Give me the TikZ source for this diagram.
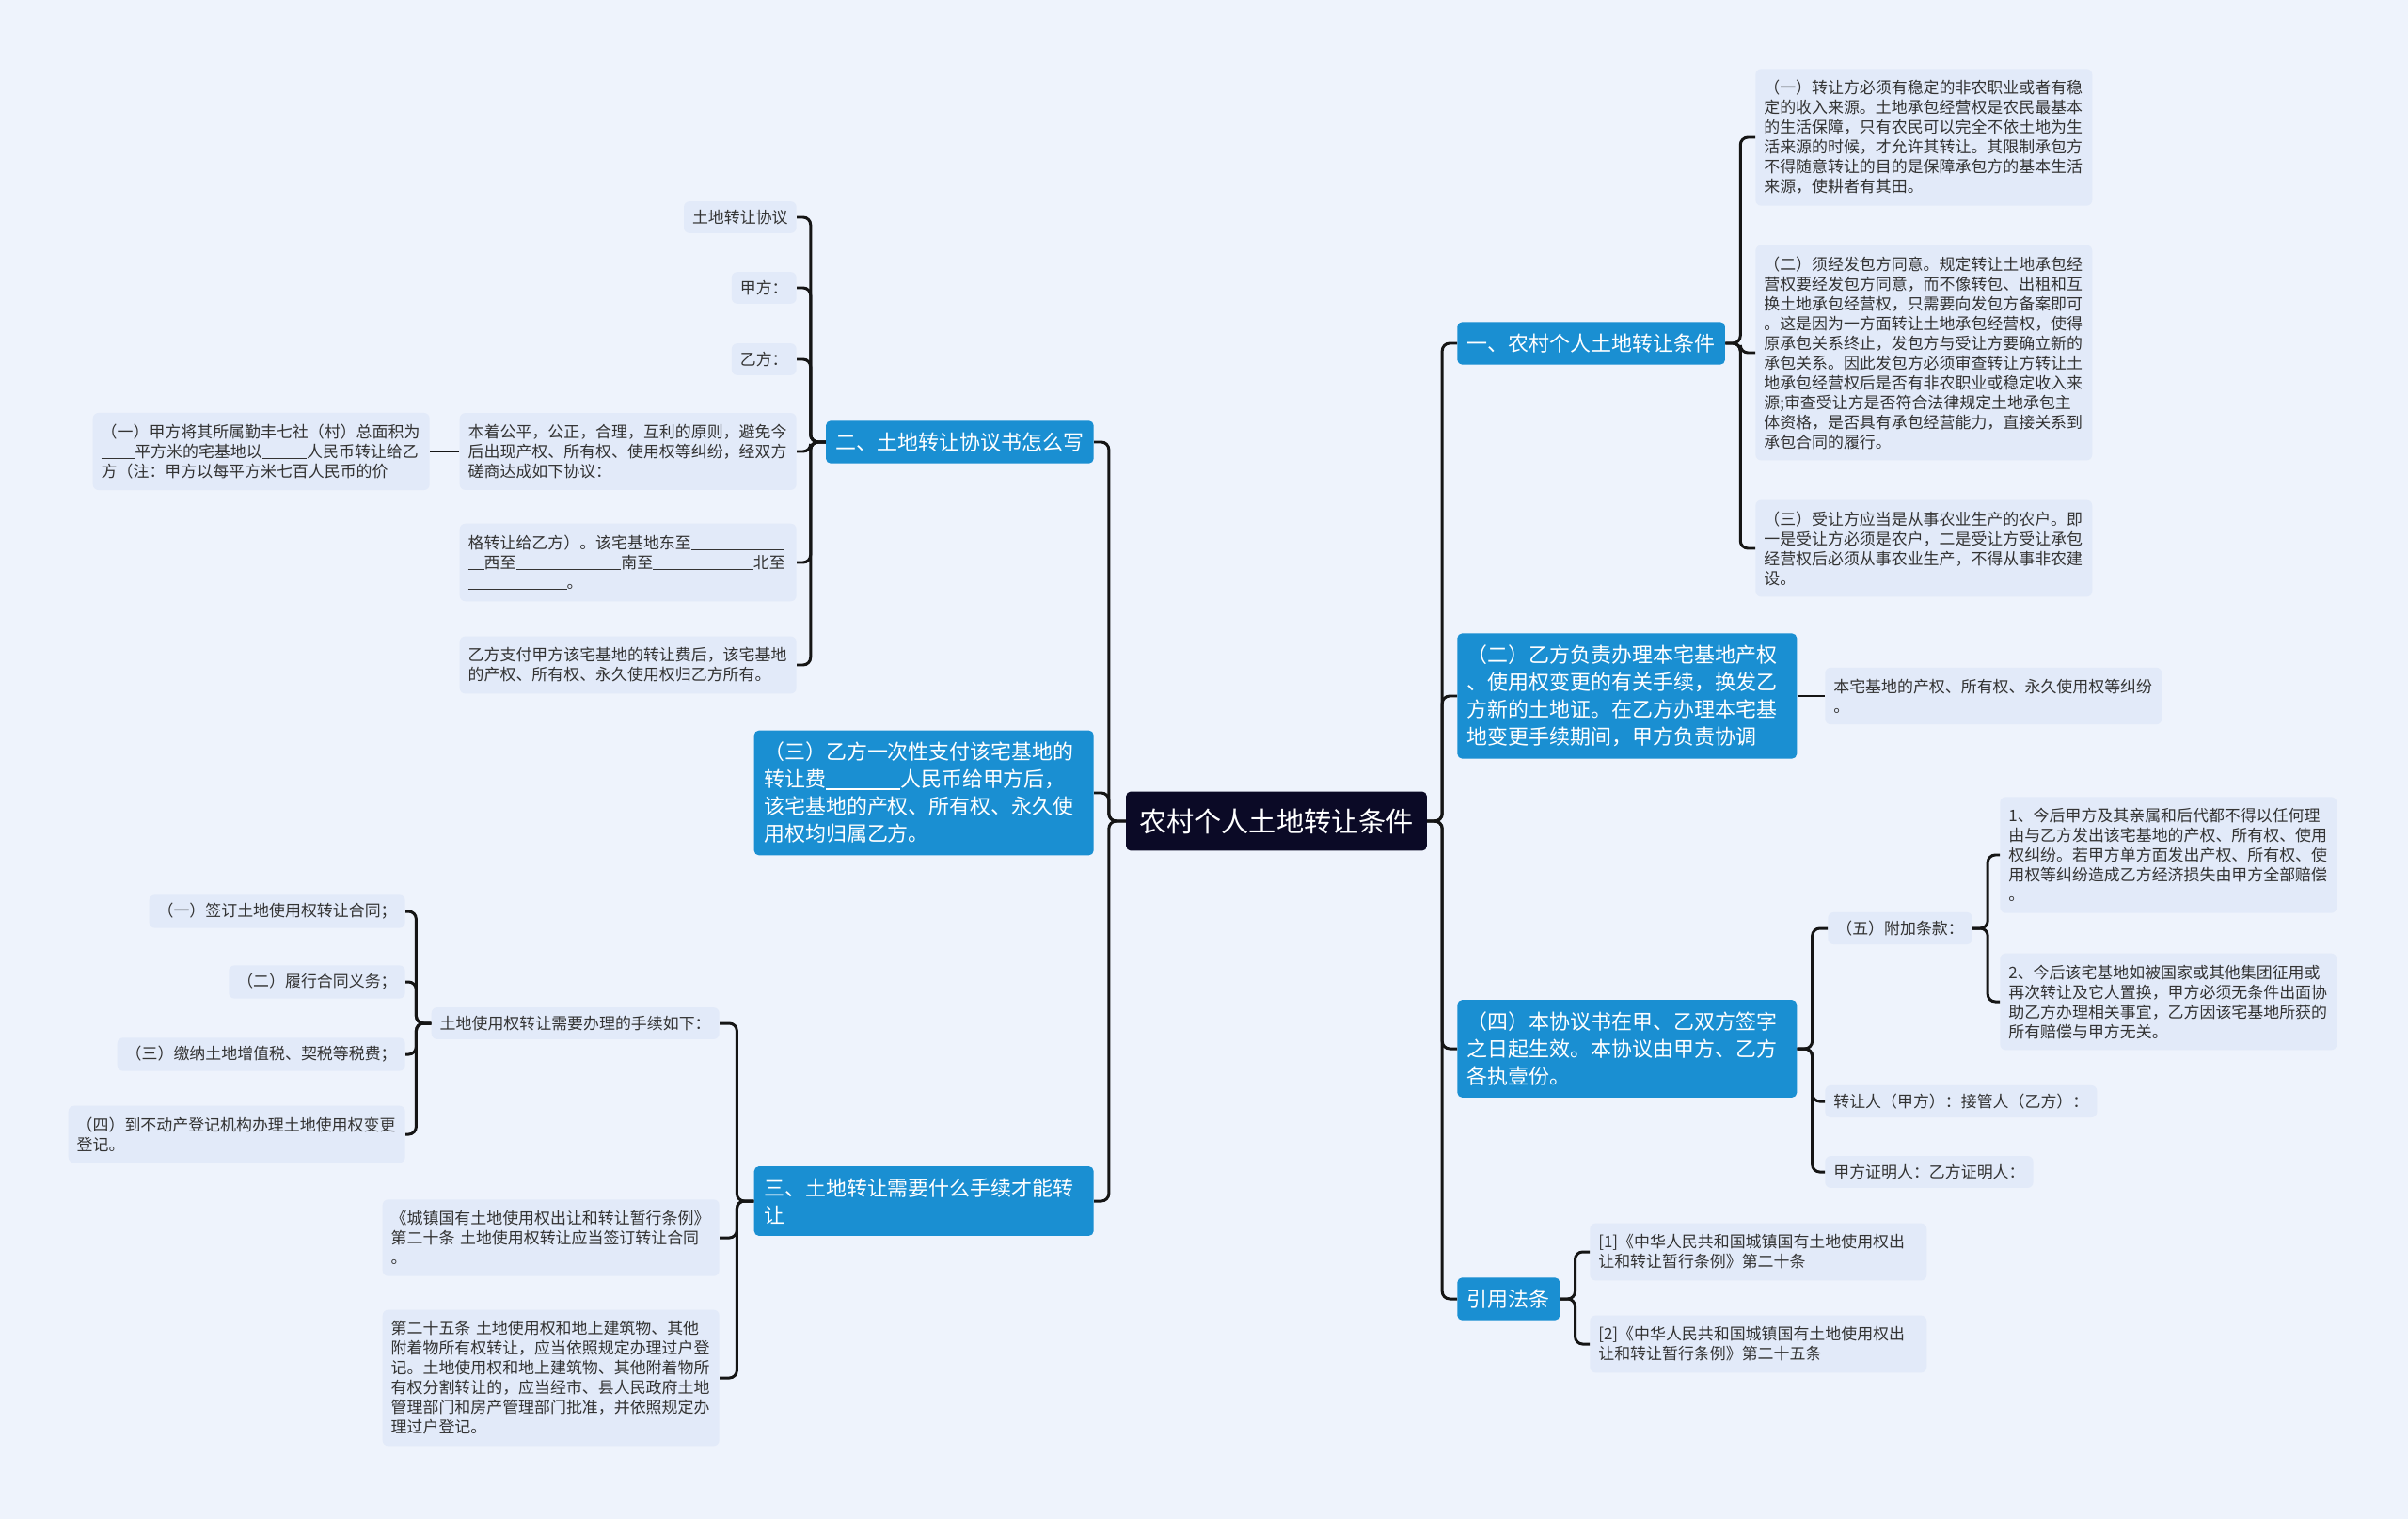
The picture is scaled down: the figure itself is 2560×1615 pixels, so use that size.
\documentclass[tikz,border=0pt]{standalone}
\usepackage{fontspec}
\newfontfamily\cjkfont{Noto Sans CJK SC}
\definecolor{pagebg}{HTML}{EEF3FC}
\definecolor{leafblue}{HTML}{E2EAF9}
\definecolor{topicblue}{HTML}{1A8FD2}
\definecolor{rootnavy}{HTML}{0B0A26}
\definecolor{leaftext}{HTML}{333333}
\definecolor{linkgray}{HTML}{151515}
\newcommand{\blankrule}[1]{\rule[-0.12em]{#1em}{0.06em}}

\begin{document}
\begin{tikzpicture}[x=0.02cm, y=-0.02cm,
    rootbox/.style={rectangle, fill=rootnavy, text=white, rounded corners=1mm,
      font=\cjkfont\fontsize{16.6pt}{20pt}\selectfont, inner xsep=2.8mm, inner ysep=3.6mm},
    topicbox/.style={rectangle, fill=topicblue, text=white, rounded corners=1mm,
      font=\cjkfont\fontsize{12.5pt}{16.5pt}\selectfont, inner xsep=2.1mm, inner ysep=2.5mm},
    topicwide/.style={topicbox, text width=6.8cm, align=left},
    leafbox/.style={rectangle, fill=leafblue, text=leaftext, rounded corners=1.2mm,
      font=\cjkfont\fontsize{9.64pt}{11.95pt}\selectfont, inner xsep=1.8mm, inner ysep=1.8mm},
    leafwide/.style={leafbox, text width=6.8cm, align=left, inner ysep=2.4mm},
    link/.style={draw=linkgray, line width=1.7pt, rounded corners=1.6mm}
  ]
  \path[use as bounding box, fill=pagebg] (0,0) rectangle (2560,1615);

  % centre
  \node[rootbox] (root) at (1357,873) {农村个人土地转让条件};

  % right side
  \node[topicbox, anchor=west] (cond) at (1549,365) {一、农村个人土地转让条件};
  \node[leafwide, anchor=west] (cond1) at (1866,146) {（一）转让方必须有稳定的非农职业或者有稳\\定的收入来源。土地承包经营权是农民最基本\\的生活保障，只有农民可以完全不依土地为生\\活来源的时候，才允许其转让。其限制承包方\\不得随意转让的目的是保障承包方的基本生活\\来源，使耕者有其田。};
  \node[leafwide, anchor=west] (cond2) at (1866,375) {（二）须经发包方同意。规定转让土地承包经\\营权要经发包方同意，而不像转包、出租和互\\换土地承包经营权，只需要向发包方备案即可\\。这是因为一方面转让土地承包经营权，使得\\原承包关系终止，发包方与受让方要确立新的\\承包关系。因此发包方必须审查转让方转让土\\地承包经营权后是否有非农职业或稳定收入来\\源;审查受让方是否符合法律规定土地承包主\\体资格，是否具有承包经营能力，直接关系到\\承包合同的履行。};
  \node[leafwide, anchor=west] (cond3) at (1866,583) {（三）受让方应当是从事农业生产的农户。即\\一是受让方必须是农户，二是受让方受让承包\\经营权后必须从事农业生产，不得从事非农建\\设。};

  \node[topicwide, anchor=west] (cert) at (1549,740) {（二）乙方负责办理本宅基地产权\\、使用权变更的有关手续，换发乙\\方新的土地证。在乙方办理本宅基\\地变更手续期间，甲方负责协调};
  \node[leafwide, anchor=west] (cert1) at (1940,740) {本宅基地的产权、所有权、永久使用权等纠纷\\。};

  \node[topicwide, anchor=west] (sign) at (1549,1115) {（四）本协议书在甲、乙双方签字\\之日起生效。本协议由甲方、乙方\\各执壹份。};
  \node[leafbox, anchor=west] (extra) at (1943,987) {（五）附加条款：};
  \node[leafwide, anchor=west] (extra1) at (2126,909) {1、今后甲方及其亲属和后代都不得以任何理\\由与乙方发出该宅基地的产权、所有权、使用\\权纠纷。若甲方单方面发出产权、所有权、使\\用权等纠纷造成乙方经济损失由甲方全部赔偿\\。};
  \node[leafwide, anchor=west] (extra2) at (2126,1065) {2、今后该宅基地如被国家或其他集团征用或\\再次转让及它人置换，甲方必须无条件出面协\\助乙方办理相关事宜，乙方因该宅基地所获的\\所有赔偿与甲方无关。};
  \node[leafbox, anchor=west] (signa) at (1940,1171) {转让人（甲方）：接管人（乙方）：};
  \node[leafbox, anchor=west] (signb) at (1940,1246) {甲方证明人：乙方证明人：};

  \node[topicbox, anchor=west] (law) at (1549,1381) {引用法条};
  \node[leafwide, anchor=west] (law1) at (1690,1331) {[1]《中华人民共和国城镇国有土地使用权出\\让和转让暂行条例》第二十条};
  \node[leafwide, anchor=west] (law2) at (1690,1429) {[2]《中华人民共和国城镇国有土地使用权出\\让和转让暂行条例》第二十五条};

  % left side
  \node[topicbox, anchor=east] (deal) at (1163,470) {二、土地转让协议书怎么写};
  \node[leafbox, anchor=east] (deal1) at (847,231) {土地转让协议};
  \node[leafbox, anchor=east] (deal2) at (847,306) {甲方：};
  \node[leafbox, anchor=east] (deal3) at (847,382) {乙方：};
  \node[leafwide, anchor=east] (deal4) at (847,480) {本着公平，公正，合理，互利的原则，避免今\\后出现产权、所有权、使用权等纠纷，经双方\\磋商达成如下协议：};
  \node[leafwide, anchor=east] (deal41) at (457,480) {（一）甲方将其所属勤丰七社（村）总面积为\\\blankrule{2.1}平方米的宅基地以\blankrule{2.8}人民币转让给乙\\方（注：甲方以每平方米七百人民币的价};
  \node[leafwide, anchor=east] (deal5) at (847,598) {格转让给乙方）。该宅基地东至\blankrule{5.8}\\\blankrule{1}西至\blankrule{6.6}南至\blankrule{6.3}北至\\\blankrule{6.2}。};
  \node[leafwide, anchor=east] (deal6) at (847,707) {乙方支付甲方该宅基地的转让费后，该宅基地\\的产权、所有权、永久使用权归乙方所有。};

  \node[topicwide, anchor=east] (pay) at (1163,843) {（三）乙方一次性支付该宅基地的\\转让费\blankrule{3.6}人民币给甲方后，\\该宅基地的产权、所有权、永久使\\用权均归属乙方。};

  \node[topicwide, anchor=east] (proc) at (1163,1277) {三、土地转让需要什么手续才能转\\让};
  \node[leafbox, anchor=east] (step) at (765,1088) {土地使用权转让需要办理的手续如下：};
  \node[leafbox, anchor=east] (step1) at (431,969) {（一）签订土地使用权转让合同；};
  \node[leafbox, anchor=east] (step2) at (431,1044) {（二）履行合同义务；};
  \node[leafbox, anchor=east] (step3) at (431,1121) {（三）缴纳土地增值税、契税等税费；};
  \node[leafwide, anchor=east] (step4) at (431,1206) {（四）到不动产登记机构办理土地使用权变更\\登记。};
  \node[leafwide, anchor=east] (rule20) at (765,1316) {《城镇国有土地使用权出让和转让暂行条例》\\第二十条 土地使用权转让应当签订转让合同\\。};
  \node[leafwide, anchor=east] (rule25) at (765,1465) {第二十五条 土地使用权和地上建筑物、其他\\附着物所有权转让，应当依照规定办理过户登\\记。土地使用权和地上建筑物、其他附着物所\\有权分割转让的，应当经市、县人民政府土地\\管理部门和房产管理部门批准，并依照规定办\\理过户登记。};

  % connectors
  \draw[link] (root.east) -- ++(16,0) |- (cond.west);
  \draw[link] (root.east) -- ++(16,0) |- (cert.west);
  \draw[link] (root.east) -- ++(16,0) |- (sign.west);
  \draw[link] (root.east) -- ++(16,0) |- (law.west);
  \draw[link] (root.west) -- ++(-18,0) |- (deal.east);
  \draw[link] (root.west) -- ++(-18,0) |- (pay.east);
  \draw[link] (root.west) -- ++(-18,0) |- (proc.east);

  \draw[link] (cond.east) -- ++(16,0) |- (cond1.west);
  \draw[link] (cond.east) -- ++(16,0) |- (cond2.west);
  \draw[link] (cond.east) -- ++(16,0) |- (cond3.west);
  \draw[link] (cert.east) -- (cert1.west);
  \draw[link] (sign.east) -- ++(16,0) |- (extra.west);
  \draw[link] (sign.east) -- ++(16,0) |- (signa.west);
  \draw[link] (sign.east) -- ++(16,0) |- (signb.west);
  \draw[link] (extra.east) -- ++(16,0) |- (extra1.west);
  \draw[link] (extra.east) -- ++(16,0) |- (extra2.west);
  \draw[link] (law.east) -- ++(16,0) |- (law1.west);
  \draw[link] (law.east) -- ++(16,0) |- (law2.west);

  \draw[link] (deal.west) -- ++(-16,0) |- (deal1.east);
  \draw[link] (deal.west) -- ++(-16,0) |- (deal2.east);
  \draw[link] (deal.west) -- ++(-16,0) |- (deal3.east);
  \draw[link] (deal.west) -- ++(-16,0) |- (deal4.east);
  \draw[link] (deal.west) -- ++(-16,0) |- (deal5.east);
  \draw[link] (deal.west) -- ++(-16,0) |- (deal6.east);
  \draw[link] (deal4.west) -- (deal41.east);
  \draw[link] (proc.west) -- ++(-18,0) |- (step.east);
  \draw[link] (proc.west) -- ++(-18,0) |- (rule20.east);
  \draw[link] (proc.west) -- ++(-18,0) |- (rule25.east);
  \draw[link] (step.west) -- ++(-16,0) |- (step1.east);
  \draw[link] (step.west) -- ++(-16,0) |- (step2.east);
  \draw[link] (step.west) -- ++(-16,0) |- (step3.east);
  \draw[link] (step.west) -- ++(-16,0) |- (step4.east);
\end{tikzpicture}
\end{document}
